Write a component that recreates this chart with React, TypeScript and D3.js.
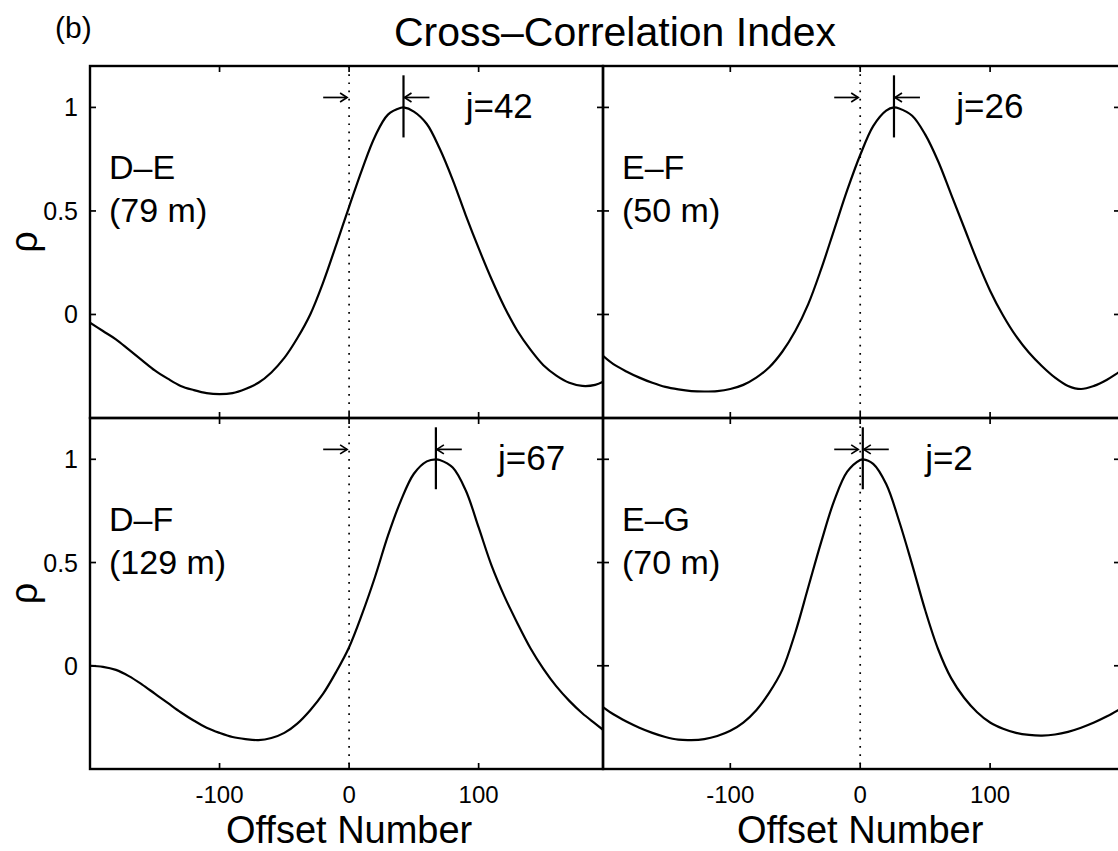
import React from "react";
import * as d3 from "d3";

// ---- data (offset number -> cross-correlation rho) ----
const lagsDE = [-200,-190,-180,-170,-160,-150,-140,-130,-120,-110,-100,-90,-80,-70,-60,-50,-40,-30,-20,-10,0,10,20,30,40,42,50,60,70,80,90,100,110,120,130,140,150,160,170,180,190,196];
const rhoDE = [-0.04,-0.08,-0.12,-0.17,-0.22,-0.27,-0.31,-0.345,-0.365,-0.38,-0.385,-0.38,-0.36,-0.33,-0.28,-0.21,-0.115,0.0,0.155,0.335,0.52,0.70,0.86,0.965,0.998,1.0,0.98,0.92,0.80,0.65,0.48,0.32,0.17,0.035,-0.08,-0.17,-0.245,-0.295,-0.33,-0.345,-0.34,-0.325];

const lagsEF = [-198,-190,-180,-170,-160,-150,-140,-130,-120,-110,-100,-90,-80,-70,-60,-50,-40,-30,-20,-10,0,10,20,26,30,40,50,60,70,80,90,100,110,120,130,140,150,160,170,180,190,200];
const rhoEF = [-0.2,-0.24,-0.275,-0.305,-0.33,-0.35,-0.362,-0.37,-0.372,-0.37,-0.36,-0.34,-0.305,-0.255,-0.18,-0.08,0.05,0.22,0.41,0.6,0.77,0.91,0.985,1.0,0.995,0.96,0.87,0.74,0.58,0.42,0.26,0.115,-0.005,-0.105,-0.185,-0.25,-0.305,-0.345,-0.36,-0.345,-0.315,-0.275];

const lagsDF = [-200,-190,-180,-170,-160,-150,-140,-130,-120,-110,-100,-90,-80,-70,-60,-50,-40,-30,-20,-10,0,10,20,30,40,50,60,67,70,80,90,100,110,120,130,140,150,160,170,180,190,196];
const rhoDF = [0.0,-0.005,-0.02,-0.05,-0.09,-0.135,-0.18,-0.225,-0.265,-0.3,-0.325,-0.345,-0.355,-0.36,-0.35,-0.325,-0.28,-0.215,-0.135,-0.03,0.09,0.25,0.43,0.63,0.8,0.93,0.99,1.0,0.997,0.96,0.85,0.67,0.485,0.335,0.205,0.085,-0.015,-0.1,-0.17,-0.23,-0.28,-0.31];

const lagsEG = [-198,-190,-180,-170,-160,-150,-140,-130,-120,-110,-100,-90,-80,-70,-60,-50,-40,-30,-20,-10,0,2,10,20,30,40,50,60,70,80,90,100,110,120,130,140,150,160,170,180,190,200];
const rhoEG = [-0.2,-0.235,-0.27,-0.3,-0.325,-0.345,-0.358,-0.36,-0.355,-0.34,-0.315,-0.275,-0.215,-0.13,-0.02,0.16,0.38,0.6,0.8,0.94,0.997,1.0,0.978,0.88,0.7,0.49,0.27,0.08,-0.06,-0.155,-0.225,-0.275,-0.305,-0.325,-0.335,-0.338,-0.333,-0.32,-0.3,-0.275,-0.245,-0.21];

const pairNames = ["D\u2013E", "E\u2013F", "D\u2013F", "E\u2013G"];
const separations = ["(79 m)", "(50 m)", "(129 m)", "(70 m)"];
const peakLags = [42, 26, 67, 2];
const xTicks = [-100, 0, 100];
const xTickLabels = ["-100", "0", "100"];
const yTicks = [0, 0.5, 1];
const yTickLabels = ["0", "0.5", "1"];
const titleText = "Cross\u2013Correlation Index";
const xLabelText = "Offset Number";
const yLabelText = "\u03c1";
const panelTag = "(b)";

const series = [
  { lags: lagsDE, rho: rhoDE },
  { lags: lagsEF, rho: rhoEF },
  { lags: lagsDF, rho: rhoDF },
  { lags: lagsEG, rho: rhoEG },
];

// ---- layout ----
const W = 1118;
const H = 851;
const colX = [[90, 603], [603, 1120]];
const rowY = [[66, 418], [418, 769]];
const xDomains = [[-200, 196], [-198, 200]];
const yDomain = [-0.5, 1.2];
const FONT = "'Liberation Sans', Arial, Helvetica, sans-serif";

function Panel({ idx }: { idx: number }) {
  const col = idx % 2;
  const row = Math.floor(idx / 2);
  const [x0, x1] = colX[col];
  const [y0, y1] = rowY[row];
  const x = d3.scaleLinear().domain(xDomains[col]).range([x0, x1]);
  const y = d3.scaleLinear().domain(yDomain).range([y1, y0]);
  const s = series[idx];
  const pts = s.lags.map((l, i) => [l, s.rho[i]] as [number, number]);
  const line = d3
    .line<[number, number]>()
    .x((d) => x(d[0]))
    .y((d) => y(d[1]))
    .curve(d3.curveCatmullRom.alpha(0.5));
  const tl = 6;
  const peak = peakLags[idx];
  const ay = y(1.048);
  const px = x(peak);
  const zx = x(0);
  const clipId = `clip${idx}`;
  return (
    <g>
      <defs>
        <clipPath id={clipId}>
          <rect x={x0} y={y0} width={x1 - x0} height={y1 - y0} />
        </clipPath>
      </defs>
      {/* dotted zero-lag line */}
      <line x1={zx} x2={zx} y1={y0} y2={y1} stroke="#000" strokeWidth={1.7} strokeDasharray="1.7 6.5" />
      {/* curve */}
      <path d={line(pts) || ""} fill="none" stroke="#000" strokeWidth={2.2} clipPath={`url(#${clipId})`} />
      {/* frame */}
      <rect x={x0} y={y0} width={x1 - x0} height={y1 - y0} fill="none" stroke="#000" strokeWidth={2.4} />
      {/* x ticks top & bottom */}
      {xTicks.map((t) => (
        <g key={"xt" + t}>
          <line x1={x(t)} x2={x(t)} y1={y1} y2={y1 - tl} stroke="#000" strokeWidth={1.7} />
          <line x1={x(t)} x2={x(t)} y1={y0} y2={y0 + tl} stroke="#000" strokeWidth={1.7} />
        </g>
      ))}
      {/* y ticks left & right */}
      {yTicks.map((t) => (
        <g key={"yt" + t}>
          <line x1={x0} x2={x0 + tl} y1={y(t)} y2={y(t)} stroke="#000" strokeWidth={1.7} />
          <line x1={x1} x2={x1 - tl} y1={y(t)} y2={y(t)} stroke="#000" strokeWidth={1.7} />
        </g>
      ))}
      {/* y tick labels (left column only) */}
      {col === 0 &&
        yTicks.map((t, i) => (
          <text key={"yl" + t} x={x0 - 12} y={y(t) + 9} textAnchor="end" fontSize={25} fontFamily={FONT}>
            {yTickLabels[i]}
          </text>
        ))}
      {/* x tick labels (bottom row only) */}
      {row === 1 &&
        xTicks.map((t, i) => (
          <text key={"xl" + t} x={x(t)} y={y1 + 34} textAnchor="middle" fontSize={24} fontFamily={FONT}>
            {xTickLabels[i]}
          </text>
        ))}
      {/* arrows marking the lag */}
      <g stroke="#000" strokeWidth={1.7} fill="none">
        <line x1={x(-20)} x2={zx - 2} y1={ay} y2={ay} />
        <path d={`M${zx - 9},${ay - 4.5} L${zx - 2},${ay} L${zx - 9},${ay + 4.5}`} />
        <line x1={px} x2={px} y1={y(1.155)} y2={y(0.855)} strokeWidth={2.2} />
        <line x1={x(peak + 20)} x2={px + 1} y1={ay} y2={ay} />
        <path d={`M${px + 8},${ay - 4.5} L${px + 1},${ay} L${px + 8},${ay + 4.5}`} />
      </g>
      <text x={x(peak + 48)} y={y(0.947)} fontSize={35} fontFamily={FONT}>
        {`j=${peak}`}
      </text>
      {/* pair label */}
      <text x={x0 + 19} y={y(0.655)} fontSize={34} fontFamily={FONT}>
        {pairNames[idx]}
      </text>
      <text x={x0 + 19} y={y(0.445)} fontSize={34} fontFamily={FONT}>
        {separations[idx]}
      </text>
      {/* y axis label */}
      {col === 0 && (
        <text
          transform={`translate(37,${(y0 + y1) / 2}) rotate(-90)`}
          textAnchor="middle"
          fontSize={38}
          fontFamily={FONT}
        >
          {yLabelText}
        </text>
      )}
      {/* x axis label */}
      {row === 1 && (
        <text x={x(0)} y={y1 + 74} textAnchor="middle" fontSize={38} fontFamily={FONT}>
          {xLabelText}
        </text>
      )}
    </g>
  );
}

export default function App() {
  return (
    <div style={{ position: "absolute", left: 0, top: 0, width: W, height: H, background: "#fff" }}>
      <svg width={W} height={H} viewBox={`0 0 ${W} ${H}`} style={{ display: "block" }}>
        <rect x={0} y={0} width={W} height={H} fill="#fff" />
        <text x={55} y={38} fontSize={30} fontFamily={FONT}>
          {panelTag}
        </text>
        <text x={615} y={46} textAnchor="middle" fontSize={41} fontFamily={FONT}>
          {titleText}
        </text>
        {[0, 1, 2, 3].map((i) => (
          <Panel key={i} idx={i} />
        ))}
      </svg>
    </div>
  );
}
